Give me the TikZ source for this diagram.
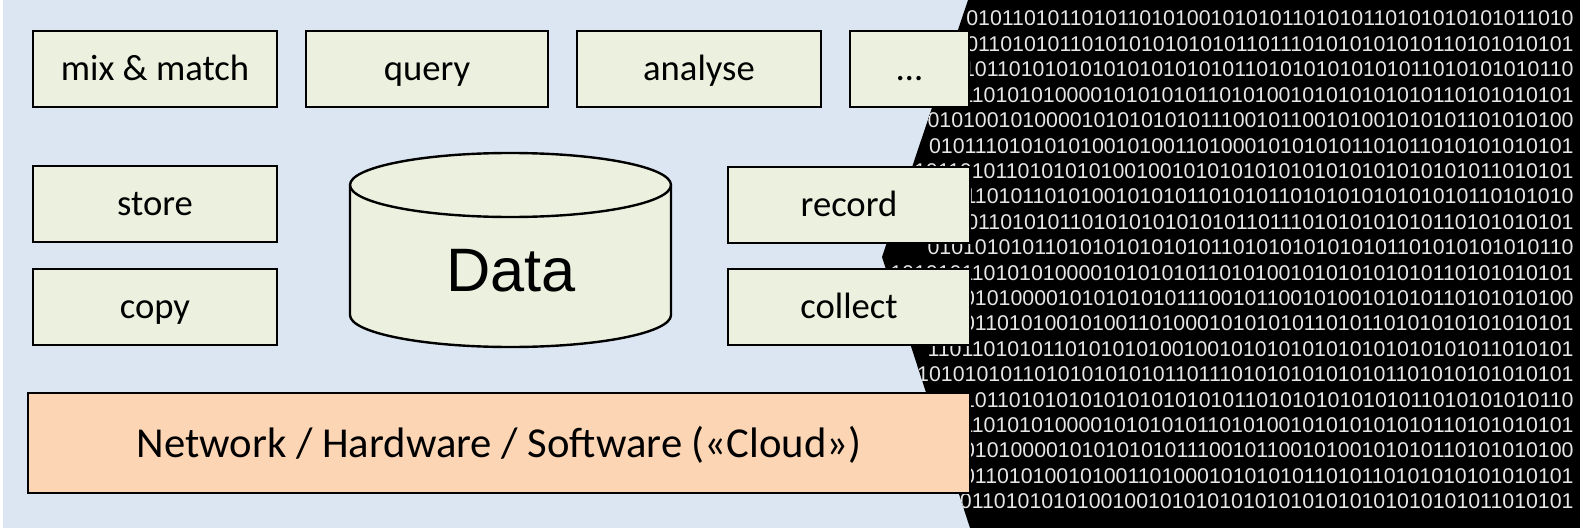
\documentclass[tikz,border=0pt]{standalone}
\usepackage{fontspec}
\newfontfamily\boxfont{Carlito}
\newfontfamily\datafont{Liberation Sans}
\newfontfamily\digitfont{Liberation Sans}
\definecolor{bgblue}{HTML}{DCE6F2}
\definecolor{boxfill}{HTML}{EBF1DE}
\definecolor{basefill}{HTML}{FCD5B5}
\definecolor{digitgray}{HTML}{E6E6E6}
\tikzset{
  box/.style={draw=black, line width=1.5pt, fill=boxfill, inner sep=0pt,
    minimum width=183pt, minimum height=57pt,
    font=\boxfont\fontsize{27.5pt}{32pt}\selectfont,
    text height=25pt, text depth=7.4pt},
  basebox/.style={box, fill=basefill, minimum width=706.5pt, minimum height=75pt,
    font=\boxfont\fontsize{32pt}{36pt}\selectfont,
    text height=29pt, text depth=8pt},
  digits/.style={anchor=base east, inner sep=0pt, text=digitgray,
    font=\digitfont\fontsize{16pt}{18pt}\selectfont}
}
\begin{document}
\begin{tikzpicture}[x=0.75pt, y=-0.75pt]
\useasboundingbox (0,0) rectangle (1580,528);
% background
\fill[white] (0,0) rectangle (1580,528);
\fill[bgblue] (3,0) rectangle (1580,528);

% binary wall on the right
\begin{scope}
  \clip (968,0) -- (882,257) -- (970,528) -- (1580,528) -- (1580,0) -- cycle;
  \fill[black] (860,0) rectangle (1580,528);
  \foreach \row [count=\i from 0] in {
    0101101011010110101001010101101010110101010101011010,
    1010110101011010101010101011011101010101010110101010101,
    0110101011010101010101010101011010101010101011010101010110,
    1010101101010100001010101011010100101010101010110101010101,
    0101001010000101010101011100101100101001010101101010100,
    0101110101010100101001101000101010101101011010101010101,
    1011010110101101010101001001010101010101010101010101011010101,
    1011010101101011010100101010110101011010101010101010110101010,
    1010110101011010101010101011011101010101010110101010101,
    0101010101101010101010101101010101010101101010101010110,
    1010101101010100001010101011010100101010101010110101010101,
    0101010101000010101010101110010110010100101010110101010100,
    1010110101001010011010001010101011010110101010101010101,
    1101101010110101010100100101010101010101010101011010101,
    0101010101010110101010101011011101010101010101101010101010101,
    0110101011010101010101010101011010101010101011010101010110,
    1010101101010100001010101011010100101010101010110101010101,
    0101010101000010101010101110010110010100101010110101010100,
    1010110101001010011010001010101011010110101010101010101,
    0101101011010110101010100100101010101010101010101010101011010101
  }
    \node[digits] (bits\i) at (1574, 26+25.4*\i) {\row};
\end{scope}

% function boxes
\node[box] (mix)     at (155,69)   {mix \& match};
\node[box, minimum width=181.5pt] (query)   at (427,69)   {query};
\node[box] (analyse) at (699,69)   {analyse};
\node[box, minimum width=89.25pt] (more) at (909.5,69) {\dots};
\node[box] (store)   at (155,204)  {store};
\node[box] (copy)    at (155,307)  {copy};
\node[box, minimum width=181.5pt] (record)  at (849,204.5) {record};
\node[box, minimum width=181.5pt] (collect) at (849,307)   {collect};
\node[basebox] (cloud) at (499,443) {Network / Hardware / Software («Cloud»)};

% data store cylinder
\filldraw[fill=boxfill, draw=black, line width=1.8pt]
  (350,185) -- (350,315) arc[start angle=180, end angle=360, x radius=160.5, y radius=-32]
  -- (671,185) arc[start angle=0, end angle=180, x radius=160.5, y radius=-32] -- cycle;
\draw[line width=1.8pt] (350,185) arc[start angle=180, end angle=360, x radius=160.5, y radius=-32];
\node[anchor=base, inner sep=0pt, font=\datafont\fontsize{46pt}{52pt}\selectfont]
  (data) at (511,291) {Data};
\end{tikzpicture}
\end{document}
